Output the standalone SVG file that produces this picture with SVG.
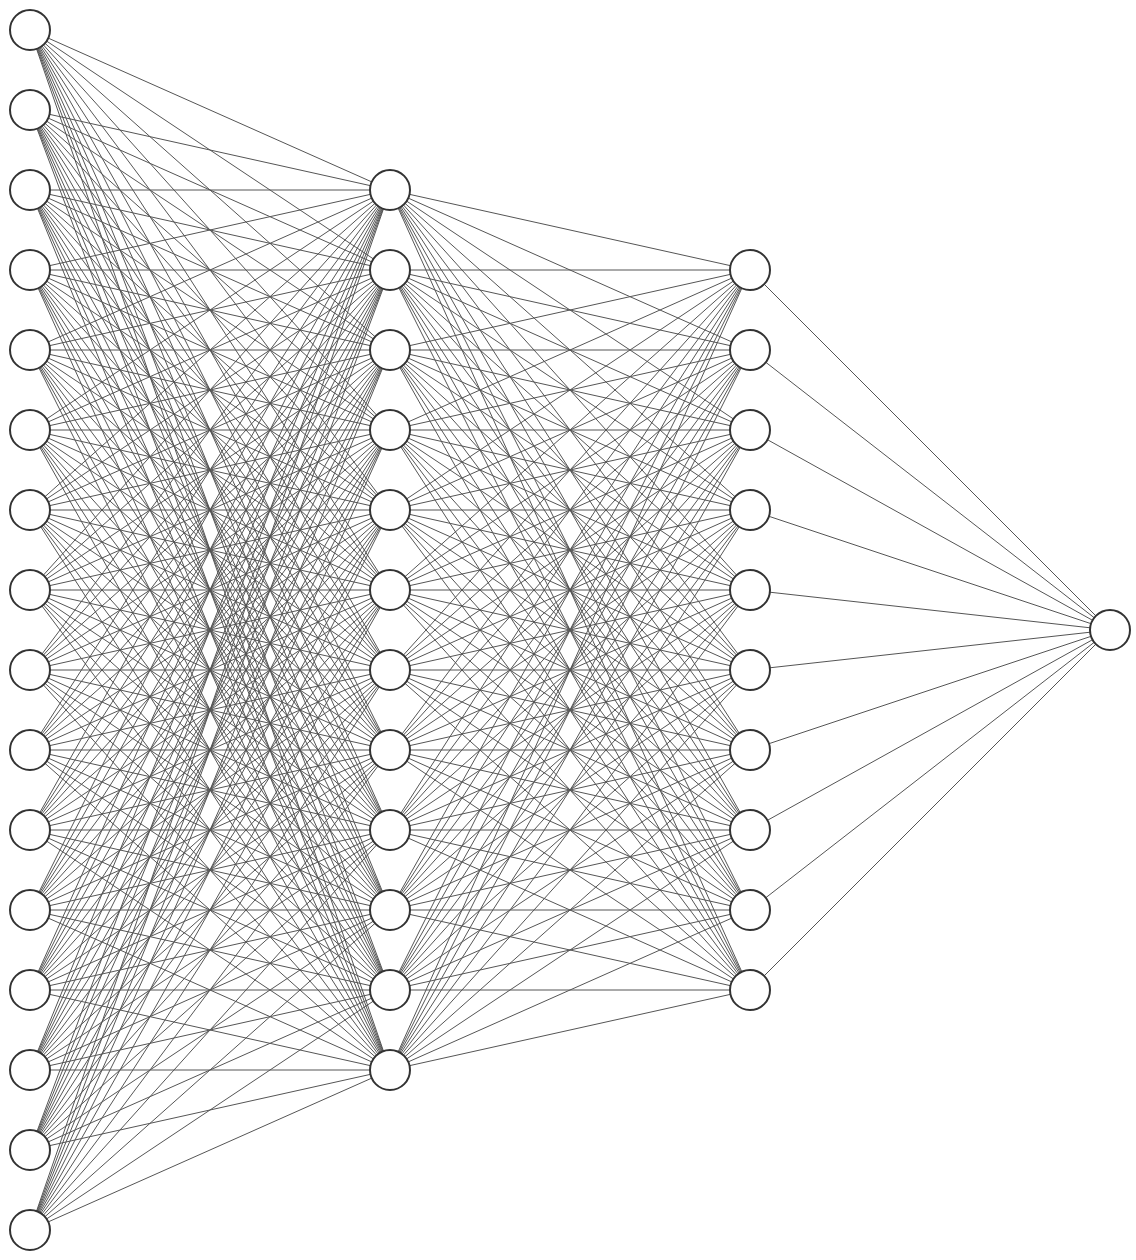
<svg xmlns="http://www.w3.org/2000/svg" width="1136" height="1260" viewBox="0 0 1136 1260">
<style>
.c{stroke:#555;stroke-width:1;fill:none}
.n{fill:#fff;stroke:#333;stroke-width:2}
</style>
<rect width="1136" height="1260" fill="#fff"/>
<g id="connectors">
<path class="c" d="M30 30L390 190M30 30L390 270M30 30L390 350M30 30L390 430M30 30L390 510M30 30L390 590M30 30L390 670M30 30L390 750M30 30L390 830M30 30L390 910M30 30L390 990M30 30L390 1070"/>
<path class="c" d="M30 110L390 190M30 110L390 270M30 110L390 350M30 110L390 430M30 110L390 510M30 110L390 590M30 110L390 670M30 110L390 750M30 110L390 830M30 110L390 910M30 110L390 990M30 110L390 1070"/>
<path class="c" d="M30 190L390 190M30 190L390 270M30 190L390 350M30 190L390 430M30 190L390 510M30 190L390 590M30 190L390 670M30 190L390 750M30 190L390 830M30 190L390 910M30 190L390 990M30 190L390 1070"/>
<path class="c" d="M30 270L390 190M30 270L390 270M30 270L390 350M30 270L390 430M30 270L390 510M30 270L390 590M30 270L390 670M30 270L390 750M30 270L390 830M30 270L390 910M30 270L390 990M30 270L390 1070"/>
<path class="c" d="M30 350L390 190M30 350L390 270M30 350L390 350M30 350L390 430M30 350L390 510M30 350L390 590M30 350L390 670M30 350L390 750M30 350L390 830M30 350L390 910M30 350L390 990M30 350L390 1070"/>
<path class="c" d="M30 430L390 190M30 430L390 270M30 430L390 350M30 430L390 430M30 430L390 510M30 430L390 590M30 430L390 670M30 430L390 750M30 430L390 830M30 430L390 910M30 430L390 990M30 430L390 1070"/>
<path class="c" d="M30 510L390 190M30 510L390 270M30 510L390 350M30 510L390 430M30 510L390 510M30 510L390 590M30 510L390 670M30 510L390 750M30 510L390 830M30 510L390 910M30 510L390 990M30 510L390 1070"/>
<path class="c" d="M30 590L390 190M30 590L390 270M30 590L390 350M30 590L390 430M30 590L390 510M30 590L390 590M30 590L390 670M30 590L390 750M30 590L390 830M30 590L390 910M30 590L390 990M30 590L390 1070"/>
<path class="c" d="M30 670L390 190M30 670L390 270M30 670L390 350M30 670L390 430M30 670L390 510M30 670L390 590M30 670L390 670M30 670L390 750M30 670L390 830M30 670L390 910M30 670L390 990M30 670L390 1070"/>
<path class="c" d="M30 750L390 190M30 750L390 270M30 750L390 350M30 750L390 430M30 750L390 510M30 750L390 590M30 750L390 670M30 750L390 750M30 750L390 830M30 750L390 910M30 750L390 990M30 750L390 1070"/>
<path class="c" d="M30 830L390 190M30 830L390 270M30 830L390 350M30 830L390 430M30 830L390 510M30 830L390 590M30 830L390 670M30 830L390 750M30 830L390 830M30 830L390 910M30 830L390 990M30 830L390 1070"/>
<path class="c" d="M30 910L390 190M30 910L390 270M30 910L390 350M30 910L390 430M30 910L390 510M30 910L390 590M30 910L390 670M30 910L390 750M30 910L390 830M30 910L390 910M30 910L390 990M30 910L390 1070"/>
<path class="c" d="M30 990L390 190M30 990L390 270M30 990L390 350M30 990L390 430M30 990L390 510M30 990L390 590M30 990L390 670M30 990L390 750M30 990L390 830M30 990L390 910M30 990L390 990M30 990L390 1070"/>
<path class="c" d="M30 1070L390 190M30 1070L390 270M30 1070L390 350M30 1070L390 430M30 1070L390 510M30 1070L390 590M30 1070L390 670M30 1070L390 750M30 1070L390 830M30 1070L390 910M30 1070L390 990M30 1070L390 1070"/>
<path class="c" d="M30 1150L390 190M30 1150L390 270M30 1150L390 350M30 1150L390 430M30 1150L390 510M30 1150L390 590M30 1150L390 670M30 1150L390 750M30 1150L390 830M30 1150L390 910M30 1150L390 990M30 1150L390 1070"/>
<path class="c" d="M30 1230L390 190M30 1230L390 270M30 1230L390 350M30 1230L390 430M30 1230L390 510M30 1230L390 590M30 1230L390 670M30 1230L390 750M30 1230L390 830M30 1230L390 910M30 1230L390 990M30 1230L390 1070"/>
<path class="c" d="M390 190L750 270M390 190L750 350M390 190L750 430M390 190L750 510M390 190L750 590M390 190L750 670M390 190L750 750M390 190L750 830M390 190L750 910M390 190L750 990"/>
<path class="c" d="M390 270L750 270M390 270L750 350M390 270L750 430M390 270L750 510M390 270L750 590M390 270L750 670M390 270L750 750M390 270L750 830M390 270L750 910M390 270L750 990"/>
<path class="c" d="M390 350L750 270M390 350L750 350M390 350L750 430M390 350L750 510M390 350L750 590M390 350L750 670M390 350L750 750M390 350L750 830M390 350L750 910M390 350L750 990"/>
<path class="c" d="M390 430L750 270M390 430L750 350M390 430L750 430M390 430L750 510M390 430L750 590M390 430L750 670M390 430L750 750M390 430L750 830M390 430L750 910M390 430L750 990"/>
<path class="c" d="M390 510L750 270M390 510L750 350M390 510L750 430M390 510L750 510M390 510L750 590M390 510L750 670M390 510L750 750M390 510L750 830M390 510L750 910M390 510L750 990"/>
<path class="c" d="M390 590L750 270M390 590L750 350M390 590L750 430M390 590L750 510M390 590L750 590M390 590L750 670M390 590L750 750M390 590L750 830M390 590L750 910M390 590L750 990"/>
<path class="c" d="M390 670L750 270M390 670L750 350M390 670L750 430M390 670L750 510M390 670L750 590M390 670L750 670M390 670L750 750M390 670L750 830M390 670L750 910M390 670L750 990"/>
<path class="c" d="M390 750L750 270M390 750L750 350M390 750L750 430M390 750L750 510M390 750L750 590M390 750L750 670M390 750L750 750M390 750L750 830M390 750L750 910M390 750L750 990"/>
<path class="c" d="M390 830L750 270M390 830L750 350M390 830L750 430M390 830L750 510M390 830L750 590M390 830L750 670M390 830L750 750M390 830L750 830M390 830L750 910M390 830L750 990"/>
<path class="c" d="M390 910L750 270M390 910L750 350M390 910L750 430M390 910L750 510M390 910L750 590M390 910L750 670M390 910L750 750M390 910L750 830M390 910L750 910M390 910L750 990"/>
<path class="c" d="M390 990L750 270M390 990L750 350M390 990L750 430M390 990L750 510M390 990L750 590M390 990L750 670M390 990L750 750M390 990L750 830M390 990L750 910M390 990L750 990"/>
<path class="c" d="M390 1070L750 270M390 1070L750 350M390 1070L750 430M390 1070L750 510M390 1070L750 590M390 1070L750 670M390 1070L750 750M390 1070L750 830M390 1070L750 910M390 1070L750 990"/>
<path class="c" d="M750 270L1110 630M750 350L1110 630M750 430L1110 630M750 510L1110 630M750 590L1110 630M750 670L1110 630M750 750L1110 630M750 830L1110 630M750 910L1110 630M750 990L1110 630"/>
</g>
<g id="input-layer">
<g id="in1"><circle class="n" cx="30" cy="30" r="20"/></g>
<g id="in2"><circle class="n" cx="30" cy="110" r="20"/></g>
<g id="in3"><circle class="n" cx="30" cy="190" r="20"/></g>
<g id="in4"><circle class="n" cx="30" cy="270" r="20"/></g>
<g id="in5"><circle class="n" cx="30" cy="350" r="20"/></g>
<g id="in6"><circle class="n" cx="30" cy="430" r="20"/></g>
<g id="in7"><circle class="n" cx="30" cy="510" r="20"/></g>
<g id="in8"><circle class="n" cx="30" cy="590" r="20"/></g>
<g id="in9"><circle class="n" cx="30" cy="670" r="20"/></g>
<g id="in10"><circle class="n" cx="30" cy="750" r="20"/></g>
<g id="in11"><circle class="n" cx="30" cy="830" r="20"/></g>
<g id="in12"><circle class="n" cx="30" cy="910" r="20"/></g>
<g id="in13"><circle class="n" cx="30" cy="990" r="20"/></g>
<g id="in14"><circle class="n" cx="30" cy="1070" r="20"/></g>
<g id="in15"><circle class="n" cx="30" cy="1150" r="20"/></g>
<g id="in16"><circle class="n" cx="30" cy="1230" r="20"/></g>
</g>
<g id="hidden-layer-1">
<g id="h1_1"><circle class="n" cx="390" cy="190" r="20"/></g>
<g id="h1_2"><circle class="n" cx="390" cy="270" r="20"/></g>
<g id="h1_3"><circle class="n" cx="390" cy="350" r="20"/></g>
<g id="h1_4"><circle class="n" cx="390" cy="430" r="20"/></g>
<g id="h1_5"><circle class="n" cx="390" cy="510" r="20"/></g>
<g id="h1_6"><circle class="n" cx="390" cy="590" r="20"/></g>
<g id="h1_7"><circle class="n" cx="390" cy="670" r="20"/></g>
<g id="h1_8"><circle class="n" cx="390" cy="750" r="20"/></g>
<g id="h1_9"><circle class="n" cx="390" cy="830" r="20"/></g>
<g id="h1_10"><circle class="n" cx="390" cy="910" r="20"/></g>
<g id="h1_11"><circle class="n" cx="390" cy="990" r="20"/></g>
<g id="h1_12"><circle class="n" cx="390" cy="1070" r="20"/></g>
</g>
<g id="hidden-layer-2">
<g id="h2_1"><circle class="n" cx="750" cy="270" r="20"/></g>
<g id="h2_2"><circle class="n" cx="750" cy="350" r="20"/></g>
<g id="h2_3"><circle class="n" cx="750" cy="430" r="20"/></g>
<g id="h2_4"><circle class="n" cx="750" cy="510" r="20"/></g>
<g id="h2_5"><circle class="n" cx="750" cy="590" r="20"/></g>
<g id="h2_6"><circle class="n" cx="750" cy="670" r="20"/></g>
<g id="h2_7"><circle class="n" cx="750" cy="750" r="20"/></g>
<g id="h2_8"><circle class="n" cx="750" cy="830" r="20"/></g>
<g id="h2_9"><circle class="n" cx="750" cy="910" r="20"/></g>
<g id="h2_10"><circle class="n" cx="750" cy="990" r="20"/></g>
</g>
<g id="output-layer">
<g id="out1"><circle class="n" cx="1110" cy="630" r="20"/></g>
</g>
</svg>
